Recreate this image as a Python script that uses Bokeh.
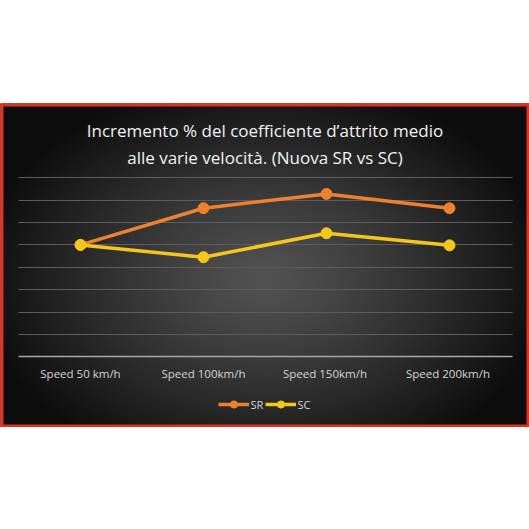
import numpy as np
from bokeh.plotting import figure
from bokeh.models import (FactorRange, Range1d, FixedTicker, Label, Legend,
                          LegendItem, BoxAnnotation, Spacer, ColumnDataSource)
from bokeh.layouts import column
from bokeh.embed import file_html
from bokeh.resources import INLINE

# ---------------- data ----------------
categories = ["Speed 50 km/h", "Speed 100km/h", "Speed  150km/h", "Speed  200km/h"]
sr_values = [5.0, 6.64, 7.28, 6.64]
sc_values = [5.0, 4.45, 5.52, 4.98]
grid_ticks = [1, 2, 3, 4, 5, 6, 7, 8]
title_lines = ["Incremento % del coefficiente d\u2019attrito medio",
               "alle varie velocit\u00e0. (Nuova SR vs SC)"]
series_names = ["SR", "SC"]

# ---------------- style ----------------
ORANGE = "#ee8130"
YELLOW = "#f5c71c"
TEXT = "#d6d6d6"
FONT = "Open Sans"
W, H = 529, 324
TOP = 103
PAD = 0.1504          # padding of the categorical range on each side (synthetic units)
Y0, Y1 = -3.16, 11.32
N = len(categories)

x_range = FactorRange(factors=categories, range_padding=PAD,
                      range_padding_units="absolute")
y_range = Range1d(Y0, Y1)

p = figure(width=W, height=H, x_range=x_range, y_range=y_range,
           output_backend="svg", toolbar_location=None, y_axis_location=None,
           min_border=0, background_fill_color="#0c0c0c",
           border_fill_color="#0c0c0c", outline_line_color=None)

# radial "spotlight" background
nx, ny = 265, 162
xs = np.linspace(0, W, nx)
ys = np.linspace(0, H, ny)
X, Y = np.meshgrid(xs, ys)
cx, cy, rx, ry = 264, 175, 290, 205
d = np.clip(np.sqrt(((X - cx) / rx) ** 2 + ((Y - cy) / ry) ** 2), 0, 1)
inner, outer = 82.0, 12.0
g = (inner + (outer - inner) * d ** 1.2).astype(np.uint8)[::-1]
img = np.empty((ny, nx), dtype=np.uint32)
view = img.view(dtype=np.uint8).reshape((ny, nx, 4))
view[..., 0] = g
view[..., 1] = g
view[..., 2] = g
view[..., 3] = 255
p.image_rgba(image=[img], x=-PAD, y=Y0, dw=N + 2 * PAD, dh=Y1 - Y0, level="image")

# grid
p.xgrid.grid_line_color = None
p.ygrid.ticker = FixedTicker(ticks=grid_ticks)
p.ygrid.grid_line_color = "#5c5c5c"
p.ygrid.grid_line_width = 1
p.ygrid.cross_bounds = (-0.006, N + 0.012)

# x axis drawn on the baseline
ax = p.xaxis[0]
ax.fixed_location = 0
ax.bounds = (-0.006, N + 0.012)
ax.axis_line_color = "#a8a8a8"
ax.axis_line_width = 1.5
ax.major_tick_line_color = None
ax.minor_tick_line_color = None
ax.major_tick_out = 0
ax.major_tick_in = 0
ax.major_label_standoff = 9
ax.major_label_text_color = TEXT
ax.major_label_text_font = FONT
ax.major_label_text_font_size = "11.5px"

src = ColumnDataSource(dict(cat=categories, sr=sr_values, sc=sc_values))
r1 = p.line("cat", "sr", source=src, line_color=ORANGE, line_width=3.5)
s1 = p.scatter("cat", "sr", source=src, size=11, fill_color=ORANGE, line_color=ORANGE)
r2 = p.line("cat", "sc", source=src, line_color=YELLOW, line_width=3.5)
s2 = p.scatter("cat", "sc", source=src, size=11, fill_color=YELLOW, line_color=YELLOW)

# title
for txt, yv in zip(title_lines, [10.11, 8.91]):
    p.add_layout(Label(x=N / 2, y=yv, text=txt, text_align="center",
                       text_baseline="middle", text_color="#f2f2f2",
                       text_font=FONT, text_font_size="17px"))

legend = Legend(items=[LegendItem(label=series_names[0], renderers=[r1, s1]),
                       LegendItem(label=series_names[1], renderers=[r2, s2])],
                orientation="horizontal", location="bottom_center",
                background_fill_alpha=0, border_line_alpha=0,
                label_text_color=TEXT, label_text_font=FONT,
                label_text_font_size="11px", glyph_width=31, glyph_height=18,
                label_standoff=2, spacing=0, padding=0, margin=14,
                label_width=14)
p.add_layout(legend)

# red frame
p.add_layout(BoxAnnotation(fill_alpha=0, line_alpha=1, line_color="#e2311d",
                           line_width=6))

layout = column(Spacer(width=W, height=TOP), p)
open("out.html", "w").write(file_html(layout, INLINE))
